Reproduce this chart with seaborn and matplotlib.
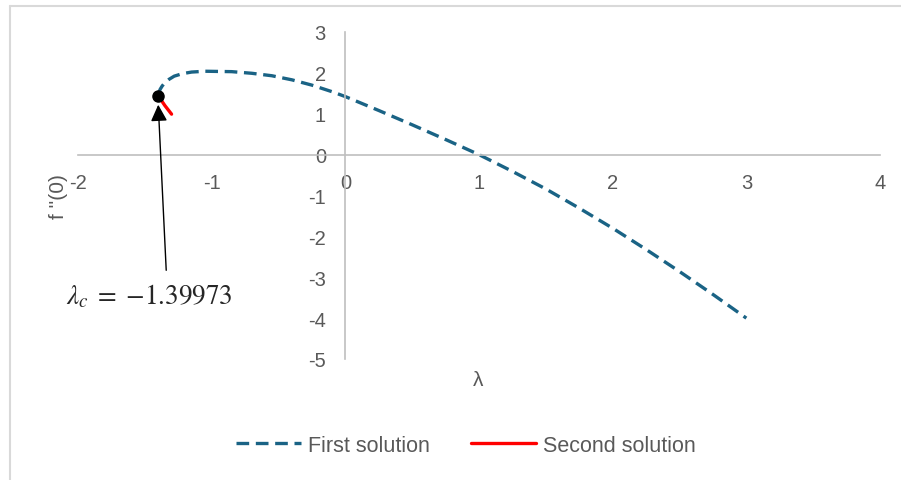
import numpy as np
import pandas as pd
import matplotlib.pyplot as plt
import seaborn as sns
from matplotlib.lines import Line2D

# first solution branch
lam_first = [-1.39973, -1.395, -1.385, -1.37, -1.35, -1.32, -1.28, -1.22, -1.15, -1.05,
             -0.85, -0.70, -0.55, -0.40, -0.25, -0.10, 0.0, 0.25, 0.5, 0.75, 1.0,
             1.25, 1.5, 1.75, 2.0, 2.25, 2.5, 2.75, 3.0]
f_first = [1.44, 1.52, 1.60, 1.68, 1.76, 1.84, 1.92, 1.98, 2.02, 2.04,
           2.03, 1.99, 1.93, 1.83, 1.70, 1.54, 1.42, 1.08, 0.73, 0.37, 0.0,
           -0.41, -0.84, -1.31, -1.80, -2.32, -2.86, -3.42, -4.0]

# second solution branch
lam_second = [-1.39973, -1.35, -1.30]
f_second = [1.44, 1.20, 0.99]

lam_c = -1.39973
f_c = 1.44

sns.set_style('white')
plt.rcParams['font.family'] = ['Liberation Sans', 'DejaVu Sans']
plt.rcParams['mathtext.fontset'] = 'stix'
plt.rcParams['axes.unicode_minus'] = False
grey = '#595959'

df1 = pd.DataFrame({'lam': lam_first, 'f': f_first})
df2 = pd.DataFrame({'lam': lam_second, 'f': f_second})

fig = plt.figure(figsize=(9.01, 4.81), dpi=100)
ax = fig.add_axes([78/901, 1-360/481, (880-78)/901, (360-33)/481])

sns.lineplot(data=df1, x='lam', y='f', sort=False, estimator=None, ax=ax,
             color='#1a6385', lw=2.4, ls=(0, (3.8, 2.0)), label='First solution')
sns.lineplot(data=df2, x='lam', y='f', sort=False, estimator=None, ax=ax,
             color='#ff0000', lw=2.4, label='Second solution')
ax.plot([lam_c], [f_c], 'o', color='black', ms=8, zorder=5)

ax.annotate('', xy=(lam_c, 1.22), xytext=(-1.34, -2.83),
            arrowprops=dict(arrowstyle='-|>,head_length=0.4,head_width=0.2',
                            color='black', lw=1, mutation_scale=25,
                            shrinkA=0, shrinkB=0))
ax.text(-2.09, -3.45, r'$\lambda_c\;=\;{-}1.39973$', fontsize=19.5, ha='left',
        va='center', clip_on=False)

ax.set_xlim(-2, 4)
ax.set_ylim(-5, 3)
ax.set_xticks(range(-2, 5))
ax.set_yticks(range(-5, 4))
for s in ['top', 'right']:
    ax.spines[s].set_visible(False)
for s in ['left', 'bottom']:
    ax.spines[s].set_position(('data', 0))
    ax.spines[s].set_color('#bfbfbf')
    ax.spines[s].set_linewidth(1.2)
ax.tick_params(axis='both', length=0, labelsize=14.5, labelcolor=grey)
ax.tick_params(axis='x', pad=13)
ax.tick_params(axis='y', pad=14)
ax.set_xlabel('')
ax.set_ylabel('')
ax.get_legend().remove()

fig.text(58/901, 1-197/481, "f ''(0)", rotation=90, ha='center', va='center',
         fontsize=15, color=grey)
fig.text(478/901, 1-380/481, 'λ', ha='center', va='center', fontsize=15, color=grey)

h, l = ax.get_legend_handles_labels()
fig.legend(h, l, loc='center', bbox_to_anchor=(466/901, 1-446/481), ncol=2,
           frameon=False, fontsize=15.5, labelcolor=grey, handlelength=3.0,
           handletextpad=0.35, columnspacing=1.9)

# light frame lines of the chart area
fig.add_artist(Line2D([10/901, 10/901], [0, 1-7/481], transform=fig.transFigure,
                      color='#d9d9d9', lw=1.5))
fig.add_artist(Line2D([10/901, 1], [1-7/481, 1-7/481], transform=fig.transFigure,
                      color='#d9d9d9', lw=1.5))

fig.savefig('out.png', dpi=100)
